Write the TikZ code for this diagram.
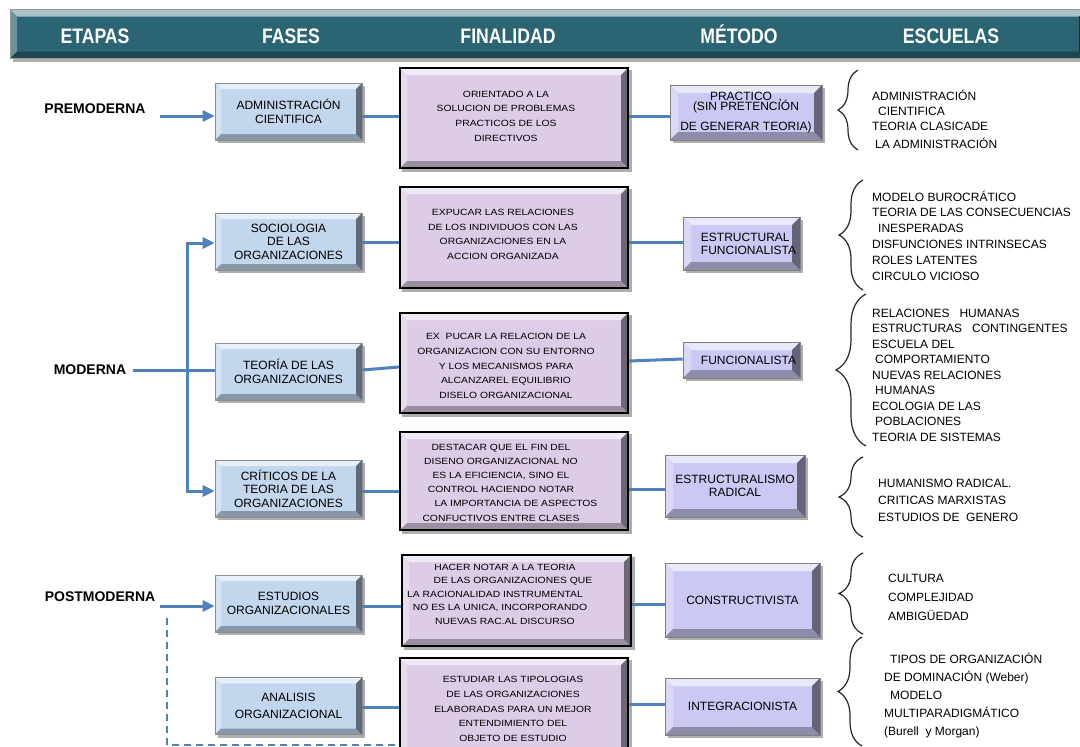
\documentclass[tikz,border=0pt]{standalone}
\usepackage{fontspec}
\setmainfont{Liberation Sans}
\newfontfamily\headfont[FakeStretch=0.84]{Liberation Sans}
\newfontfamily\goalfont[FakeStretch=1.15]{Liberation Sans}
\usetikzlibrary{arrows.meta,backgrounds,decorations.pathreplacing}

\definecolor{barteal}{HTML}{2B6472}
\definecolor{phasefill}{HTML}{C2D6EE}
\definecolor{goalfill}{HTML}{DCCCE6}
\definecolor{methodfill}{HTML}{C9C9F3}
\definecolor{linkblue}{HTML}{4F81BD}

\tikzset{
  % raised box: lighter top/left edges, darker bottom/right edges
  bevel/.style 2 args={
    fill=#1,
    path picture={
      \fill[#1!40!white] (path picture bounding box.north west) -- (path picture bounding box.north east)
        -- ([xshift=-#2,yshift=-#2]path picture bounding box.north east)
        -- ([xshift=#2,yshift=-#2]path picture bounding box.north west) -- cycle;
      \fill[#1!70!white] (path picture bounding box.north west)
        -- ([xshift=#2,yshift=-#2]path picture bounding box.north west)
        -- ([xshift=#2,yshift=#2]path picture bounding box.south west)
        -- (path picture bounding box.south west) -- cycle;
      \fill[#1!70!black] (path picture bounding box.south west)
        -- ([xshift=#2,yshift=#2]path picture bounding box.south west)
        -- ([xshift=-#2,yshift=#2]path picture bounding box.south east)
        -- (path picture bounding box.south east) -- cycle;
      \fill[#1!50!black] (path picture bounding box.south east) -- (path picture bounding box.north east)
        -- ([xshift=-#2,yshift=-#2]path picture bounding box.north east)
        -- ([xshift=-#2,yshift=#2]path picture bounding box.south east) -- cycle;
    }
  },
  phase/.style={bevel={phasefill}{6pt}, draw=black!45, line width=.6pt,
    minimum width=147pt, minimum height=57pt, inner sep=0pt, align=center,
    font=\fontsize{12}{13.5}\selectfont},
  goal/.style={bevel={goalfill}{7pt}, draw=black, line width=2.2pt,
    minimum width=228pt, inner sep=0pt},
  goaltext/.style={align=center, inner sep=0pt, font=\goalfont\fontsize{9}{14.6}\selectfont},
  method/.style={bevel={methodfill}{8pt}, draw=black!50, line width=.6pt,
    inner sep=0pt, align=center, font=\fontsize{12}{13}\selectfont},
  stage/.style={inner sep=0pt, font=\bfseries\fontsize{14}{16}\selectfont},
  headtxt/.style={inner sep=0pt, anchor=base, text=white, font=\headfont\bfseries\fontsize{21}{23}\selectfont},
  school/.style={anchor=west, align=left, inner sep=0pt},
  link/.style={draw=linkblue, line width=3pt},
  linkarrow/.style={-{Triangle[length=12pt,width=11pt]}},
  dashlink/.style={draw=linkblue, line width=1.4pt, dash pattern=on 7pt off 5pt},
  schoolbrace/.style={decorate, decoration={brace, amplitude=#1}, draw=black!85, line width=1.2pt},
}

\begin{document}
\begin{tikzpicture}[x=1pt,y=-1pt]
\useasboundingbox (0,0) rectangle (1080,747);
\clip (0,0) rectangle (1080,747);

% title bar
\node[bevel={barteal}{7pt}, draw=black!40, line width=.5pt, inner sep=0pt,
      minimum width=1076pt, minimum height=49pt] (header) at (548,34) {};
\node[headtxt] (hEtapas) at (95,43.5) {ETAPAS};
\node[headtxt] (hFases) at (291,43.5) {FASES};
\node[headtxt] (hFinalidad) at (508,43.5) {FINALIDAD};
\node[headtxt] (hMetodo) at (739,43.5) {MÉTODO};
\node[headtxt] (hEscuelas) at (951,43.5) {ESCUELAS};

% dashed link from the postmodern stage down to the last row
\coordinate (dashTop) at (167,618);
\coordinate (dashCorner) at (167,745);
\coordinate (dashEnd) at (403,745);
\coordinate (dashUp) at (403,652);
\draw[dashlink] (dashTop) -- (dashCorner) -- (dashEnd) -- (dashUp);

% stages
\node[stage] (pre) at (95,109) {PREMODERNA};
\node[stage] (mod) at (90,370) {MODERNA};
\node[stage] (post) at (100,597) {POSTMODERNA};

% phases
\node[phase] (F1) at (288.5,111.5) {ADMINISTRACIÓN\\CIENTIFICA};
\node[phase] (F2) at (288.5,241.5) {SOCIOLOGIA\\DE LAS\\ORGANIZACIONES};
\node[phase] (F3) at (288.5,371.5) {TEORÍA DE LAS\\ORGANIZACIONES};
\node[phase] (F4) at (288.5,488.5) {CRÍTICOS DE LA\\TEORIA DE LAS\\ORGANIZACIONES};
\node[phase] (F5) at (288.5,603.5) {ESTUDIOS\\ORGANIZACIONALES};
\node[phase] (F6) at (288.5,706) {ANALISIS\\[3pt]ORGANIZACIONAL};

% purposes
\node[goal, minimum height=100pt] (N1) at (514,118) {};
\node[goal, minimum height=101pt] (N2) at (514,237.5) {};
\node[goal, minimum height=100pt] (N3) at (514,363) {};
\node[goal, minimum height=98pt] (N4) at (514,481) {};
\node[goal, minimum height=91pt, minimum width=229pt] (N5) at (516.5,600.5) {};
\node[goal, minimum height=96pt] (N6) at (514,706) {};

\node[goaltext] (N1t) at (506,116) {ORIENTADO A LA\\SOLUCION DE PROBLEMAS\\PRACTICOS DE LOS\\DIRECTIVOS};
\node[goaltext] (N2t) at (503,234.5) {EXPUCAR LAS RELACIONES\\DE LOS INDIVIDUOS CON LAS\\ORGANIZACIONES EN LA\\ACCION ORGANIZADA};
\node[goaltext] (N3t) at (506,366) {EX\ \ PUCAR LA RELACION DE LA\\ORGANIZACION CON SU ENTORNO\\Y LOS MECANISMOS PARA\\ALCANZAREL EQUILIBRIO\\DISELO ORGANIZACIONAL};
\node[goaltext, font=\goalfont\fontsize{9}{14.2}\selectfont] (N4t) at (501,482.5) {DESTACAR QUE EL FIN DEL\\DISENO ORGANIZACIONAL NO\\ES LA EFICIENCIA, SINO EL\\CONTROL HACIENDO NOTAR\\\hspace*{30pt}LA IMPORTANCIA DE ASPECTOS\\CONFUCTIVOS ENTRE CLASES};
\node[goaltext, font=\goalfont\fontsize{9}{13.5}\selectfont] (N5t) at (505,594) {HACER NOTAR A LA TEORIA\\\hspace*{16pt}DE LAS ORGANIZACIONES QUE\\\hspace*{-20pt}LA RACIONALIDAD INSTRUMENTAL\\\hspace*{-10pt}NO ES LA UNICA, INCORPORANDO\\NUEVAS RAC.AL DISCURSO};
\node[goaltext] (N6t) at (513,709) {ESTUDIAR LAS TIPOLOGIAS\\DE LAS ORGANIZACIONES\\ELABORADAS PARA UN MEJOR\\ENTENDIMIENTO DEL\\OBJETO DE ESTUDIO};

% methods
\node[method, minimum width=152pt, minimum height=55pt] (M1) at (746,112.5)
  {PRACTICO\ \ ,\\[-3pt](SIN PRETENCIÓN\\[7pt]DE GENERAR TEORIA)};
\node[method, minimum width=117pt, minimum height=53pt, align=left] (M2) at (741.5,243.5)
  {\hspace*{14pt}ESTRUCTURAL\\\hspace*{14pt}FUNCIONALISTA};
\node[method, minimum width=117pt, minimum height=36pt, align=left] (M3) at (741.5,360)
  {\hspace*{14pt}FUNCIONALISTA};
\node[method, minimum width=140pt, minimum height=62pt] (M4) at (735,486) {ESTRUCTURALISMO\\RADICAL};
\node[method, minimum width=155pt, minimum height=74pt] (M5) at (742.5,600) {CONSTRUCTIVISTA};
\node[method, minimum width=155pt, minimum height=57pt] (M6) at (742.5,706.5) {INTEGRACIONISTA};

% drop shadows behind the boxes
\begin{scope}[on background layer]
  \fill[white] (0,0) rectangle (1080,747);
  \foreach \b in {header,F1,F2,F3,F4,F5,F6,N1,N2,N3,N4,N5,N6,M1,M2,M3,M4,M5,M6}
    \fill[black!70, opacity=.45] ([xshift=3pt,yshift=-3pt]\b.south west) rectangle ([xshift=3pt,yshift=-3pt]\b.north east);
\end{scope}

% connectors
\coordinate (preS) at (160,116);
\coordinate (postS) at (160,606);
\coordinate (modS) at (133,370);
\coordinate (tr1) at (187,243);
\coordinate (tr2) at (187,491);

\draw[link,linkarrow] (preS) -- (F1.west |- preS);
\draw[link,linkarrow] (postS) -- (F5.west |- postS);
\draw[link] (modS) -- (F3.west |- modS);
\draw[link,linkarrow] (tr2) -- (tr1) -- (F2.west |- tr1);
\draw[link,linkarrow] (tr1) -- (tr2) -- (F4.west |- tr2);

\draw[link] (F1.east |- 0,116) -- (N1.west |- 0,116);
\draw[link] (N1.east |- 0,116) -- (M1.west |- 0,116);
\draw[link] (F2.east |- 0,242) -- (N2.west |- 0,242);
\draw[link] (N2.east |- 0,242) -- (M2.west |- 0,242);
\draw[link] (F3.east |- 0,370) -- (N3.west |- 0,367);
\draw[link] (N3.east |- 0,361) -- (M3.west |- 0,359);
\draw[link] (F4.east |- 0,491) -- (N4.west |- 0,491);
\draw[link] (N4.east |- 0,489) -- (M4.west |- 0,489);
\draw[link] (F5.east |- 0,606) -- (N5.west |- 0,606);
\draw[link] (N5.east |- 0,604) -- (M5.west |- 0,604);
\draw[link] (F6.east |- 0,707) -- (N6.west |- 0,707);
\draw[link] (N6.east |- 0,704) -- (M6.west |- 0,704);

% braces
\draw[schoolbrace=20pt] (858,150) -- (858,70);
\draw[schoolbrace=24pt] (863,290) -- (863,180);
\draw[schoolbrace=30pt] (866,446) -- (866,294);
\draw[schoolbrace=24pt] (863,537) -- (863,457);
\draw[schoolbrace=24pt] (863,634) -- (863,553);
\draw[schoolbrace=24pt] (862,746) -- (862,637);

% schools
\node[school, font=\fontsize{12}{15}\selectfont] (E1) at (872,119)
  {ADMINISTRACIÓN\\\hspace*{6pt}CIENTIFICA\\TEORIA CLASICADE\\[3pt]\hspace*{3pt}LA ADMINISTRACIÓN};
\node[school, font=\fontsize{12}{15.8}\selectfont] (E2) at (872,235.5)
  {MODELO BUROCRÁTICO\\TEORIA DE LAS CONSECUENCIAS\\\hspace*{6pt}INESPERADAS\\DISFUNCIONES INTRINSECAS\\ROLES LATENTES\\CIRCULO VICIOSO};
\node[school, font=\fontsize{12}{15.5}\selectfont] (E3) at (872,375)
  {RELACIONES\ \ \ HUMANAS\\ESTRUCTURAS\ \ \ CONTINGENTES\\ESCUELA DEL\\\hspace*{3pt}COMPORTAMIENTO\\NUEVAS RELACIONES\\\hspace*{3pt}HUMANAS\\ECOLOGIA DE LAS\\\hspace*{3pt}POBLACIONES\\TEORIA DE SISTEMAS};
\node[school, font=\fontsize{12}{17}\selectfont] (E4) at (878,500)
  {HUMANISMO RADICAL.\\CRITICAS MARXISTAS\\ESTUDIOS DE\ \ GENERO};
\node[school, font=\fontsize{12}{19}\selectfont] (E5) at (888,597)
  {CULTURA\\COMPLEJIDAD\\AMBIGÜEDAD};
\node[school, font=\fontsize{12}{18.2}\selectfont] (E6) at (884,695.5)
  {\hspace*{6pt}TIPOS DE ORGANIZACIÓN\\DE DOMINACIÓN (Weber)\\\hspace*{6pt}MODELO\\MULTIPARADIGMÁTICO\\(Burell\ \ y Morgan)};
\end{tikzpicture}
\end{document}
